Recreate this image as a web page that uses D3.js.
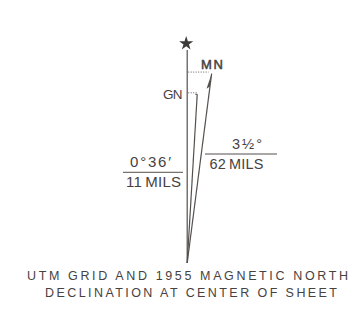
<!DOCTYPE html>
<html><head><meta charset="utf-8">
<script src="https://cdn.jsdelivr.net/npm/d3@7"></script>
<style>body{margin:0;background:#fff}svg{display:block}text{font-family:"Liberation Sans",Arial,sans-serif;fill:#47423f}</style>
</head><body><div id="chart"></div>
<script>
// Data
const northRefs = ["TN", "GN", "MN"];
const northLabels = ["★", "GN", "MN"];
const drawAngles = [0, 3.4, 7.35];      // schematic diagram angles (deg)
const drawLengths = [213, 169, 191];    // schematic lengths (diagram units)
const angleValues = ["0°36′", "3½°"];
const milValues = ["11 MILS", "62 MILS"];
const titleLines = ["UTM GRID AND 1955 MAGNETIC NORTH", "DECLINATION AT CENTER OF SHEET"];

const W = 353, H = 314;
const svg = d3.select("#chart").append("svg").attr("width", W).attr("height", H);
const apex = {x: 187.2, y: 263};
const r = d3.scaleLinear().domain([0, 213]).range([0, 213]);
const ink = "#55504d";

const tips = drawAngles.map((a, i) => {
  const rad = a * Math.PI / 180;
  return {x: apex.x + r(drawLengths[i]) * Math.sin(rad), y: apex.y - r(drawLengths[i]) * Math.cos(rad)};
});

// lines
svg.selectAll("line.ray").data(tips).join("line").attr("class", "ray")
  .attr("x1", apex.x).attr("y1", apex.y)
  .attr("x2", d => d.x).attr("y2", d => d.y)
  .attr("stroke", ink).attr("stroke-width", 1.2);

// dotted connectors for GN and MN
[1, 2].forEach(i => {
  svg.append("line").attr("x1", apex.x + 1).attr("x2", tips[i].x - (i === 2 ? 3 : 0))
    .attr("y1", tips[i].y - 1.5).attr("y2", tips[i].y - 1.5)
    .attr("stroke", ink).attr("stroke-width", 0.9).attr("stroke-dasharray", "1,1.5");
});
// GN small hook
svg.append("line").attr("x1", tips[1].x - 2).attr("x2", tips[1].x)
  .attr("y1", tips[1].y).attr("y2", tips[1].y).attr("stroke", ink).attr("stroke-width", 1);

// MN half arrowhead
{
  const t = tips[2], rad = drawAngles[2] * Math.PI / 180;
  const ux = Math.sin(rad), uy = -Math.cos(rad);
  const back = 15;
  const bx = t.x - ux * back, by = t.y - uy * back;
  svg.append("path")
    .attr("d", `M${t.x},${t.y}L${bx - 3.2},${by + 0.3}L${bx + 0.2},${by - 2}Z`)
    .attr("fill", ink);
}

// star
svg.append("path").attr("d", d3.symbol(d3.symbolStar, 62)())
  .attr("transform", `translate(${tips[0].x - 1},${tips[0].y - 6.5})`)
  .attr("fill", "#3e3a38");

// labels
svg.append("text").attr("x", 201).attr("y", 69.3).attr("textLength", 22)
  .attr("font-size", 13).attr("stroke", "#47423f").attr("stroke-width", 0.5).text(northLabels[2]);
svg.append("text").attr("x", 163).attr("y", 98.5).attr("textLength", 19.5)
  .attr("font-size", 13.5).text(northLabels[1]);

// left fraction
svg.append("text").attr("x", 130).attr("y", 167.3).attr("textLength", 41).attr("font-size", 15).text(angleValues[0]);
svg.append("line").attr("x1", 123).attr("x2", 183).attr("y1", 172.3).attr("y2", 172.3).attr("stroke", ink).attr("stroke-width", 1);
svg.append("text").attr("x", 126).attr("y", 187.3).attr("textLength", 55).attr("font-size", 15).text(milValues[0].replace(" ", "\u2009"));

// right fraction
svg.append("text").attr("x", 232).attr("y", 149).attr("textLength", 30).attr("font-size", 14.5).text(angleValues[1] );
svg.append("line").attr("x1", 205).attr("x2", 277).attr("y1", 154).attr("y2", 154).attr("stroke", ink).attr("stroke-width", 1);
svg.append("text").attr("x", 209.5).attr("y", 169.3).attr("textLength", 54).attr("font-size", 14.5).text(milValues[1].replace(" ", "\u2009"));

// title
svg.append("text").attr("x", 27).attr("y", 280).attr("textLength", 321).attr("lengthAdjust", "spacing")
  .attr("font-size", 12.5).text(titleLines[0]);
svg.append("text").attr("x", 45).attr("y", 296.5).attr("textLength", 292).attr("lengthAdjust", "spacing")
  .attr("font-size", 12.5).text(titleLines[1]);
</script></body></html>
